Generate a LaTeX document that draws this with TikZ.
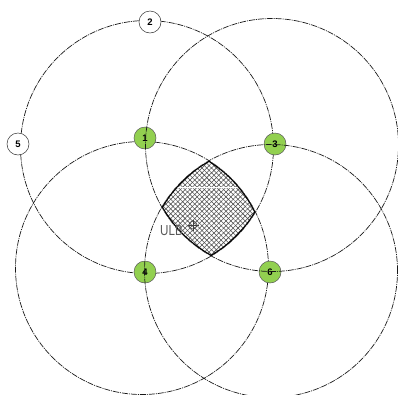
\documentclass[tikz,border=0pt]{standalone}
\usepackage{fontspec}
\setmainfont{Liberation Sans}
\usetikzlibrary{patterns.meta}
\definecolor{nodegreen}{HTML}{92D050}
\begin{document}
\begin{tikzpicture}[x=1pt,y=-1pt,
  ring/.style={line width=0.7pt, black!90, dash pattern=on 6pt off 1pt on 1pt off 1pt},
  station/.style={circle, draw=black!65, line width=0.5pt, fill=nodegreen, minimum size=22pt, inner sep=0pt, font=\bfseries\fontsize{9.5}{9.5}\selectfont},
  spare/.style={station, fill=white, draw=black!80},
  hatchA/.style={pattern={Lines[angle=45,distance=3.4pt,line width=0.55pt]}, pattern color=black!70},
  hatchB/.style={pattern={Lines[angle=-45,distance=3.4pt,line width=0.55pt]}, pattern color=black!70},
  rim/.style={line width=2.2pt, black},
]
\useasboundingbox (0,0) rectangle (398,394);
\coordinate (c1) at (147,147);
\coordinate (c2) at (272,145);
\coordinate (c3) at (142,268);
\coordinate (c4) at (271,271);
\def\rr{126.5pt}
% circles below the nodes
\draw[ring] (c1) circle[radius=\rr];
\draw[ring] (c3) circle[radius=\rr];
% nodes
\node[station] (n1) at (145,138) {1};
\node[station] (n3) at (275,144) {3};
\node[station] (n4) at (145,272) {4};
\node[station] (n6) at (270,272) {6};
\node[spare] (n2) at (150,22) {2};
\node[spare] (n5) at (18,144) {5};
% circles above the nodes
\draw[ring] (c2) circle[radius=\rr];
\draw[ring] (c4) circle[radius=\rr];
% common area
\begin{scope}
  \clip (c1) circle[radius=\rr];
  \clip (c2) circle[radius=\rr];
  \clip (c3) circle[radius=\rr];
  \clip (c4) circle[radius=\rr];
  \fill[white] (0,0) rectangle (398,394);
  \fill[hatchA] (0,0) rectangle (398,394);
  \fill[hatchB] (0,0) rectangle (398,394);
  \draw[white, line width=0.5pt] (100,187) -- (300,187);
  \draw[rim] (c1) circle[radius=\rr];
  \draw[rim] (c2) circle[radius=\rr];
  \draw[rim] (c3) circle[radius=\rr];
  \draw[rim] (c4) circle[radius=\rr];
\end{scope}
% label and target mark
\node[inner sep=0pt, text=black!65, font=\fontsize{14.5}{14.5}\selectfont] (ulb) at (171.5,231) {\scalebox{0.8}[1]{ULB}};
\coordinate (tgt) at (193,225);
\draw[black!75, line width=0.5pt] (tgt) circle[radius=4pt];
\draw[black!75, line width=0.5pt] (tgt) ++(-5.5,0) -- ++(11,0);
\draw[black!75, line width=0.5pt] (tgt) ++(0,-5.5) -- ++(0,11);
\end{tikzpicture}
\end{document}
